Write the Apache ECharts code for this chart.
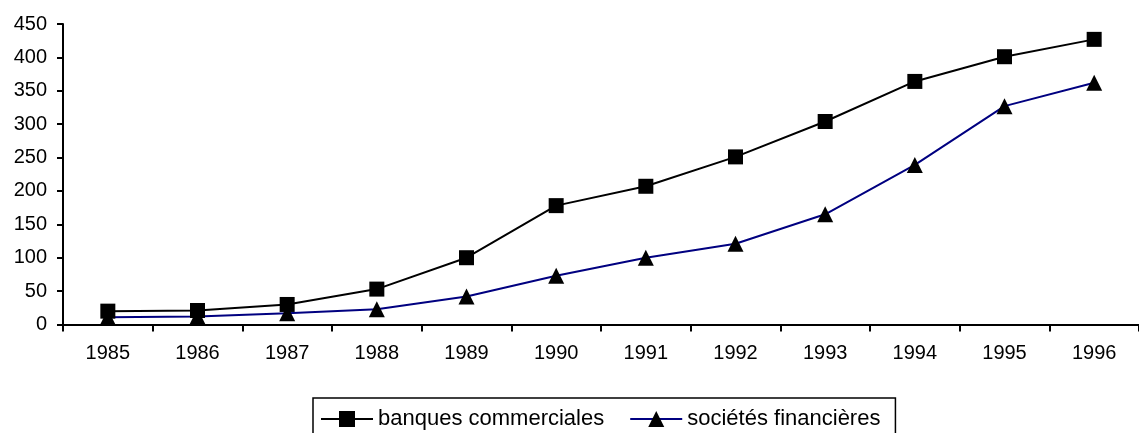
<!DOCTYPE html>
<html>
<head>
<meta charset="utf-8">
<script src="https://cdn.jsdelivr.net/npm/echarts@6/dist/echarts.min.js"></script>
<style>
html,body{margin:0;padding:0;background:#fff;}
#c{width:1139px;height:433px;}
</style>
</head>
<body>
<div id="c"></div>
<script>
const categories = ['1985','1986','1987','1988','1989','1990','1991','1992','1993','1994','1995','1996'];
const banques = [20, 21, 30, 53, 100, 178, 207, 251, 304, 364, 401, 427];
const societes = [11, 12, 17, 23, 42, 73, 100, 121, 165, 239, 327, 362];
const yTicks = {min: 0, max: 450, interval: 50};

const chart = echarts.init(document.getElementById('c'), null, {renderer: 'canvas'});
const font = 'Liberation Sans, Arial, sans-serif';
chart.setOption({
  animation: false,
  backgroundColor: '#fff',
  grid: {left: 63, top: 24, right: -5, bottom: 108.5, containLabel: false},
  xAxis: {
    type: 'category',
    data: categories,
    boundaryGap: true,
    axisLine: {lineStyle: {color: '#000', width: 2}},
    axisTick: {show: true, interval: 0, length: 7, lineStyle: {color: '#000', width: 2}},
    axisLabel: {interval: 0, color: '#000', fontFamily: font, fontSize: 20, margin: 19},
    splitLine: {show: false}
  },
  yAxis: {
    type: 'value',
    min: yTicks.min, max: yTicks.max, interval: yTicks.interval,
    axisLine: {show: true, lineStyle: {color: '#000', width: 2}},
    axisTick: {show: true, length: 6, lineStyle: {color: '#000', width: 2}},
    axisLabel: {color: '#000', fontFamily: font, fontSize: 20, margin: 16},
    splitLine: {show: false}
  },
  legend: {
    left: 313, top: 398,
    orient: 'horizontal',
    padding: [10, 15, 20, 7],
    itemGap: 25,
    itemWidth: 52, itemHeight: 20,
    borderColor: '#000', borderWidth: 1.5, borderRadius: 0,
    textStyle: {color: '#000', fontFamily: font, fontSize: 22, lineHeight: 22},
    data: ['banques commerciales', 'sociétés financières']
  },
  series: [
    {
      name: 'banques commerciales',
      type: 'line',
      data: banques,
      symbol: 'rect', symbolSize: 15,
      lineStyle: {color: '#000', width: 2},
      itemStyle: {color: '#000'},
      z: 3
    },
    {
      name: 'sociétés financières',
      type: 'line',
      data: societes,
      symbol: 'triangle', symbolSize: 16,
      lineStyle: {color: '#000080', width: 2},
      itemStyle: {color: '#000'},
      z: 2
    }
  ]
});
</script>
</body>
</html>
